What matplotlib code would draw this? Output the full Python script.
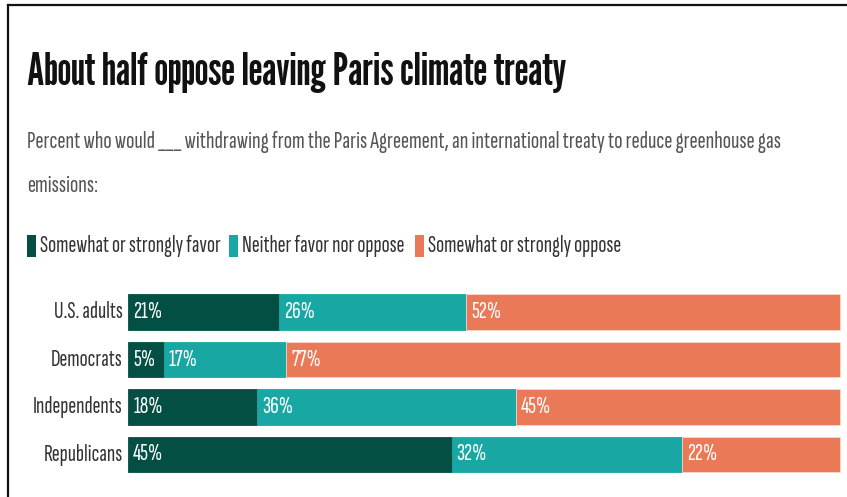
import matplotlib
matplotlib.use('Agg')
import matplotlib.pyplot as plt
from matplotlib.patches import Rectangle
from matplotlib.lines import Line2D

W, H = 847, 497

groups = ['U.S. adults', 'Democrats', 'Independents', 'Republicans']
favor = [21, 5, 18, 45]
neither = [26, 17, 36, 32]
oppose = [52, 77, 45, 22]
series = ['Somewhat or strongly favor', 'Neither favor nor oppose', 'Somewhat or strongly oppose']
colors = ['#044f43', '#19a7a3', '#ea7957']

title = 'About half oppose leaving Paris climate treaty'
sub1 = 'Percent who would ___ withdrawing from the Paris Agreement, an international treaty to reduce greenhouse gas'
sub2 = 'emissions:'

TITLE_FONT = 'League Gothic'
BODY_FONT = 'Sofia Sans Extra Condensed'

fig = plt.figure(figsize=(W / 100, H / 100), dpi=100)
fig.patch.set_facecolor('white')
r = fig.canvas.get_renderer()


def px(x, y):
    return x / W, 1 - y / H


def fit_size(s, family, width, weight='normal'):
    # font size that makes string s about `width` pixels wide
    t = fig.text(0, 0, s, fontsize=10, family=family, weight=weight)
    w = t.get_window_extent(r).width
    t.remove()
    return 10 * width / w


# frame lines (left and top)
fig.add_artist(Line2D([7.5 / W, 7.5 / W], [0, 1 - 4.5 / H], transform=fig.transFigure, color='#111111', lw=1.6))
fig.add_artist(Line2D([7.5 / W, 1], [1 - 4.5 / H, 1 - 4.5 / H], transform=fig.transFigure, color='#111111', lw=1.6))

# title and subtitle
ts = fit_size(title, TITLE_FONT, 540)
fig.text(*px(27, 85), title, fontsize=ts, family=TITLE_FONT, color='#111111', va='baseline')
ss = fit_size(sub1, BODY_FONT, 750)
fig.text(*px(27, 148), sub1, fontsize=ss, family=BODY_FONT, color='#555555', va='baseline')
fig.text(*px(27, 192), sub2, fontsize=ss, family=BODY_FONT, color='#555555', va='baseline')

# legend
ls = fit_size(series[0], BODY_FONT, 180)
leg_x = [27, 229, 415]
for x0, lab, c in zip(leg_x, series, colors):
    fig.add_artist(Rectangle(px(x0, 257), 9 / W, 22 / H, transform=fig.transFigure, color=c, lw=0))
    fig.text(*px(x0 + 13, 252), lab, fontsize=ls, family=BODY_FONT, color='#333333', va='baseline')

# bars
ax = fig.add_axes([128 / W, 1 - 478.25 / H, 719 / W, 190 / H])
ax.set_xlim(0, 100)
ax.set_ylim(3.5, -0.5)
ax.axis('off')

ys = list(range(len(groups)))
pct_size = fit_size('21%', BODY_FONT, 29)
left = [0] * len(groups)
for vals, c in zip([favor, neither, oppose], colors):
    ax.barh(ys, vals, left=left, height=0.737, color=c, edgecolor='#f6d8cc' if c == colors[2] else c, lw=0.6)
    for y, v, l in zip(ys, vals, left):
        ax.annotate(f'{v}%', (l, y), xytext=(5, 0), textcoords='offset pixels', ha='left', va='center',
                    color='white', fontsize=pct_size, family=BODY_FONT)
    left = [a + b for a, b in zip(left, vals)]

for y, g in zip(ys, groups):
    ax.annotate(g, (0, y), xytext=(-5, 0), textcoords='offset pixels', ha='right', va='center',
                color='#333333', fontsize=ls, family=BODY_FONT, annotation_clip=False)

fig.savefig('out.png', dpi=100, facecolor='white')
